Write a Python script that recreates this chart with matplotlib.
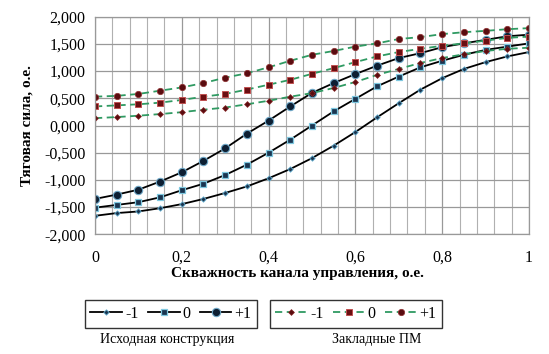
import matplotlib
matplotlib.use("Agg")
import matplotlib.pyplot as plt
from matplotlib.ticker import MultipleLocator, FuncFormatter
import numpy as np

# ---- data ----
x = [0, 0.05, 0.1, 0.15, 0.2, 0.25, 0.3, 0.35, 0.4, 0.45, 0.5,
     0.55, 0.6, 0.65, 0.7, 0.75, 0.8, 0.85, 0.9, 0.95, 1.0]

orig_m1 = [-1.66, -1.61, -1.58, -1.52, -1.445, -1.35, -1.24, -1.12, -0.97, -0.80, -0.60,
           -0.37, -0.12, 0.15, 0.41, 0.66, 0.87, 1.04, 1.165, 1.27, 1.35]
orig_0 = [-1.51, -1.46, -1.41, -1.32, -1.19, -1.07, -0.91, -0.72, -0.50, -0.26, 0.0,
          0.26, 0.49, 0.72, 0.90, 1.07, 1.19, 1.30, 1.39, 1.45, 1.51]
orig_p1 = [-1.35, -1.27, -1.18, -1.03, -0.86, -0.65, -0.42, -0.15, 0.09, 0.35, 0.60,
           0.78, 0.945, 1.10, 1.24, 1.33, 1.44, 1.51, 1.575, 1.64, 1.67]

pm_m1 = [0.135, 0.155, 0.18, 0.21, 0.245, 0.29, 0.33, 0.39, 0.455, 0.53, 0.595,
         0.69, 0.80, 0.93, 1.04, 1.15, 1.24, 1.31, 1.37, 1.41, 1.43]
pm_0 = [0.35, 0.37, 0.39, 0.42, 0.47, 0.53, 0.58, 0.66, 0.75, 0.84, 0.95,
        1.055, 1.165, 1.27, 1.35, 1.41, 1.465, 1.51, 1.56, 1.61, 1.635]
pm_p1 = [0.53, 0.545, 0.58, 0.64, 0.70, 0.78, 0.88, 0.96, 1.07, 1.19, 1.30,
         1.37, 1.45, 1.51, 1.59, 1.625, 1.68, 1.715, 1.74, 1.77, 1.79]

labels = ["-1", "0", "+1"]
x_label = "Скважность канала управления, о.е."
y_label = "Тяговая сила, о.е."
group1 = "Исходная конструкция"
group2 = "Закладные ПМ"

plt.rcParams['font.family'] = ['Liberation Serif', 'DejaVu Serif']

W, H = 549, 354
fig = plt.figure(figsize=(W/100, H/100), dpi=100)
ax = fig.add_axes([95/W, 1-234.3/H, (529-95)/W, (234.3-16.7)/H])

# original series
lo1, = ax.plot(x, orig_m1, color='black', lw=1.3, marker='D', ms=2.8,
               mfc='#1a3550', mec='#6fb8d8', mew=0.6, label=labels[0])
lo2, = ax.plot(x, orig_0, color='black', lw=1.3, marker='s', ms=5,
               mfc='#1a3550', mec='#7fc8e0', mew=0.9, label=labels[1])
lo3, = ax.plot(x, orig_p1, color='black', lw=1.3, marker='o', ms=6,
               mfc='#0d1f33', mec='#6fa8c8', mew=0.8, label=labels[2])

green = '#2f9a62'
lp1, = ax.plot(x, pm_m1, color=green, lw=1.3, ls=(0, (4, 2.5)), marker='D', ms=3,
               mfc='#5a0c10', mec='#8a2a2a', mew=0.5, label=labels[0])
lp2, = ax.plot(x, pm_0, color=green, lw=1.3, ls=(0, (4, 2.5)), marker='s', ms=5,
               mfc='#6a0f12', mec='#c05050', mew=0.7, label=labels[1])
lp3, = ax.plot(x, pm_p1, color=green, lw=1.3, ls=(0, (4, 2.5)), marker='o', ms=4.6,
               mfc='#5a0c10', mec='#903030', mew=0.5, label=labels[2])

ax.set_xlim(0, 1)
ax.set_ylim(-2, 2)
ax.xaxis.set_major_locator(MultipleLocator(0.2))
ax.xaxis.set_minor_locator(MultipleLocator(0.04))
ax.yaxis.set_major_locator(MultipleLocator(0.5))

def xfmt(v, p):
    if abs(v) < 1e-9:
        return "0"
    if abs(v - 1) < 1e-9:
        return "1"
    return ("%.1f" % v).replace(".", ",")

def yfmt(v, p):
    return ("%.3f" % v).replace(".", ",").replace("-0,000", "0,000")

ax.xaxis.set_major_formatter(FuncFormatter(xfmt))
ax.yaxis.set_major_formatter(FuncFormatter(yfmt))

ax.grid(which='major', axis='both', color='#999999', lw=0.9)
ax.grid(which='minor', axis='x', color='#b0b0b0', lw=0.8)
ax.set_axisbelow(True)
for s in ax.spines.values():
    s.set_color('#999999')
    s.set_linewidth(0.9)
ax.tick_params(axis='both', which='both', length=0, labelsize=11.5, colors='black')
ax.tick_params(axis='x', pad=11)
ax.tick_params(axis='y', pad=7)

fig.text(297/W, 1-273/H, x_label, ha='center', va='center', fontsize=11, fontweight='bold')
fig.text(27/W, 1-126/H, y_label, ha='center', va='center', rotation=90, fontsize=11, fontweight='bold')

leg_kw = dict(loc='center', ncol=3, numpoints=1, fontsize=11.5, frameon=True, fancybox=False,
              edgecolor='black', handlelength=2.0, handletextpad=0.2, columnspacing=0.55,
              borderpad=0.35, borderaxespad=0)
leg1 = fig.legend(handles=[lo1, lo2, lo3], bbox_to_anchor=(171/W, 1-314/H), **leg_kw)
leg1.get_frame().set_linewidth(1.0)
leg2 = fig.legend(handles=[lp1, lp2, lp3], bbox_to_anchor=(356/W, 1-314/H), **leg_kw)
leg2.get_frame().set_linewidth(1.0)

fig.text(167/W, 1-340/H, group1, ha='center', va='center', fontsize=10)
fig.text(377/W, 1-340/H, group2, ha='center', va='center', fontsize=10)

fig.savefig("out.png", dpi=100)
